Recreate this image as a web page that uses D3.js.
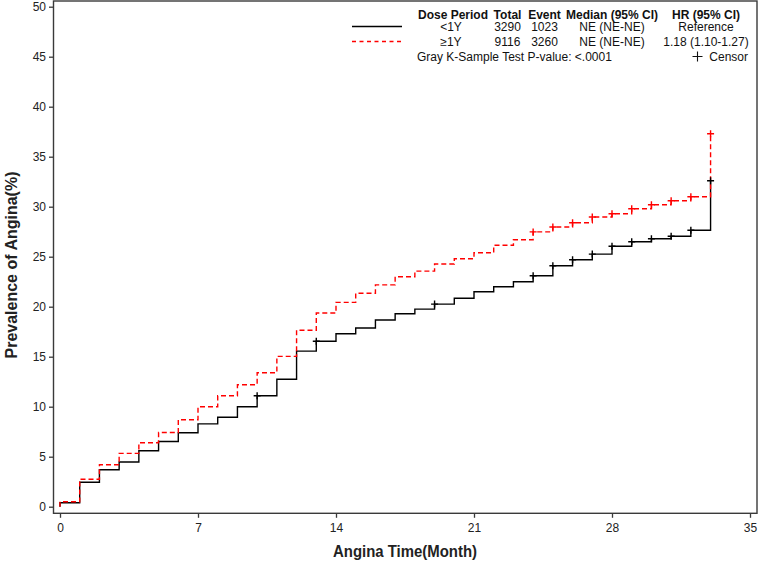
<!DOCTYPE html>
<html>
<head>
<meta charset="utf-8">
<script src="https://cdn.jsdelivr.net/npm/d3@7"></script>
<style>
  html, body { margin: 0; padding: 0; background: #fff; }
  svg { display: block; font-family: "Liberation Sans", Arial, sans-serif; }
</style>
</head>
<body>
<svg id="chart" width="758" height="562"></svg>
<script>
// ---------- data ----------
const months = [0, 0, 1, 2, 3, 4, 5, 6, 7, 8, 9, 10, 11, 12, 13, 14, 15, 16, 17, 18, 19, 20, 21, 22, 23, 24, 25, 26, 27, 28, 29, 30, 31, 32, 33];
const lessThan1Y = [0, 0.4, 2.45, 3.7, 4.47, 5.6, 6.52, 7.4, 8.28, 8.94, 10.0, 11.1, 12.75, 15.56, 16.55, 17.3, 17.87, 18.67, 19.3, 19.76, 20.26, 20.85, 21.5, 22.0, 22.5, 23.1, 24.1, 24.7, 25.26, 26.05, 26.5, 26.8, 27.05, 27.65, 32.6];
const atLeast1Y = [0, 0.5, 2.75, 4.2, 5.33, 6.4, 7.42, 8.7, 10.0, 11.1, 12.2, 13.4, 15.03, 17.65, 19.37, 20.43, 21.35, 22.18, 23.0, 23.56, 24.27, 24.8, 25.4, 26.15, 26.7, 27.48, 27.97, 28.4, 28.97, 29.3, 29.8, 30.2, 30.6, 31.0, 37.3];
const censorLess1Y = [10, 13, 19, 24, 25, 26, 27, 28, 29, 30, 31, 32, 33];
const censorAtLeast1Y = [24, 25, 26, 27, 28, 29, 30, 31, 32, 33];
const xTicks = [0, 7, 14, 21, 28, 35];
const yTicks = [0, 5, 10, 15, 20, 25, 30, 35, 40, 45, 50];
const legendHeader = ["Dose Period", "Total", "Event", "Median (95% CI)", "HR (95% CI)"];
const legendRows = [
  ["<1Y", "3290", "1023", "NE (NE-NE)", "Reference"],
  ["\u22651Y", "9116", "3260", "NE (NE-NE)", "1.18 (1.10-1.27)"]
];
const testText = "Gray K-Sample Test P-value: <.0001";
const censorLabel = "Censor";
const xTitle = "Angina Time(Month)";
const yTitle = "Prevalence of Angina(%)";

// ---------- layout ----------
const svg = d3.select("#chart");
const frame = { left: 53.5, right: 757, top: 1, bottom: 513.3 };
const x = d3.scaleLinear().domain([0, 35]).range([60, 750]);
const y = d3.scaleLinear().domain([0, 50]).range([506.7, 6.7]);
const axisColor = "#3a3a3a";

// frame
svg.append("rect")
  .attr("x", frame.left).attr("y", frame.top)
  .attr("width", frame.right - frame.left).attr("height", frame.bottom - frame.top)
  .attr("fill", "none").attr("stroke", axisColor).attr("stroke-width", 1.4);

// axes
const gx = svg.append("g").attr("transform", `translate(0,${frame.bottom})`)
  .call(d3.axisBottom(x).tickValues(xTicks).tickSize(4.5).tickSizeOuter(0).tickPadding(6));
const gy = svg.append("g").attr("transform", `translate(${frame.left},0)`)
  .call(d3.axisLeft(y).tickValues(yTicks).tickSize(4.5).tickSizeOuter(0).tickPadding(3));
[gx, gy].forEach(g => {
  g.select(".domain").remove();
  g.selectAll(".tick line").attr("stroke", axisColor).attr("stroke-width", 1.3);
  g.selectAll(".tick text").attr("fill", "#222").style("font-size", "12px")
    .style("font-family", "'Liberation Sans', Arial, sans-serif");
});

// titles
svg.append("text").attr("x", 405).attr("y", 557)
  .attr("text-anchor", "middle").attr("font-weight", "bold").style("font-size", "16px")
  .attr("textLength", 144).attr("lengthAdjust", "spacingAndGlyphs")
  .attr("fill", "#222").text(xTitle);
svg.append("text").attr("transform", "translate(17,265) rotate(-90)")
  .attr("text-anchor", "middle").attr("font-weight", "bold").style("font-size", "16px")
  .attr("textLength", 187).attr("lengthAdjust", "spacingAndGlyphs")
  .attr("fill", "#222").text(yTitle);

// curves
const line = d3.line().x(d => x(d[0])).y(d => y(d[1])).curve(d3.curveStepAfter);
const series = [
  { vals: lessThan1Y, censor: censorLess1Y, color: "#000", dash: null },
  { vals: atLeast1Y, censor: censorAtLeast1Y, color: "#ff0000", dash: "5,3" }
];
const plus = s => `M${-s},0H${s}M0,${-s}V${s}`;
series.forEach(s => {
  const pts = months.map((m, i) => [m, s.vals[i]]);
  svg.append("path").attr("d", line(pts))
    .attr("fill", "none").attr("stroke", s.color).attr("stroke-width", 1.4)
    .attr("stroke-dasharray", s.dash);
});
series.forEach(s => {
  svg.append("g").selectAll("path").data(s.censor).join("path")
    .attr("d", plus(3.5))
    .attr("transform", t => `translate(${x(t)},${y(s.vals[months.lastIndexOf(t)])})`)
    .attr("fill", "none").attr("stroke", s.color).attr("stroke-width", 1.4);
});

// legend
const colX = [453, 507.5, 544.5, 612, 706];
const leg = svg.append("g").style("font-size", "12px").attr("fill", "#111");
leg.selectAll("text.h").data(legendHeader).join("text").attr("class", "h")
  .attr("x", (d, i) => colX[i]).attr("y", 18.5).attr("text-anchor", "middle")
  .attr("font-weight", "bold").text(d => d);
const rowY = [31, 46];
legendRows.forEach((row, r) => {
  leg.selectAll(null).data(row).join("text")
    .attr("x", (d, i) => i === 0 ? 451 : colX[i]).attr("y", rowY[r]).attr("text-anchor", "middle")
    .text(d => d);
});
svg.append("line").attr("x1", 352).attr("x2", 402).attr("y1", 26.5).attr("y2", 26.5)
  .attr("stroke", "#000").attr("stroke-width", 1.4);
svg.append("line").attr("x1", 352).attr("x2", 402).attr("y1", 41.5).attr("y2", 41.5)
  .attr("stroke", "#ff0000").attr("stroke-width", 1.4).attr("stroke-dasharray", "4,3.5");
leg.append("text").attr("x", 417).attr("y", 61).text(testText);
leg.append("text").attr("x", 748).attr("y", 61).attr("text-anchor", "end").text(censorLabel);
svg.append("path").attr("d", plus(5)).attr("transform", "translate(697.5,56.5)")
  .attr("fill", "none").attr("stroke", "#111").attr("stroke-width", 1.1);
</script>
</body>
</html>
